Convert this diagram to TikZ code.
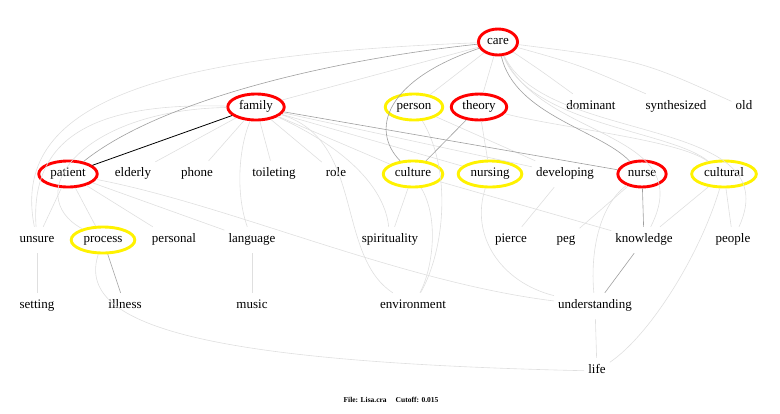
\documentclass[tikz,border=0pt]{standalone}
\usepackage{fontspec}
\setmainfont{Liberation Serif}
\usetikzlibrary{shapes.geometric}

\begin{document}
\begin{tikzpicture}[
    x=1pt, y=-1pt,
    word/.style={font=\fontsize{13}{15}\selectfont, text height=8pt, text depth=4pt, inner xsep=4pt, inner ysep=7pt},
    hub/.style={word, ellipse, draw=red, line width=2.9pt, inner xsep=3pt, inner ysep=2pt, minimum height=26pt},
    seed/.style={hub, draw=yellow},
    weak/.style={draw=gray!25, line width=0.6pt},
    mid/.style={draw=gray!75, line width=0.6pt},
    strong/.style={draw=black, line width=0.8pt},
]
\useasboundingbox (0,0) rectangle (780,413);

\node[hub] (care) at (498,42) {care};

\node[hub] (family) at (256,107) {family};
\node[seed] (person) at (414,107) {person};
\node[hub] (theory) at (479,107) {theory};
\node[word] (dominant) at (591,107) {dominant};
\node[word] (synth) at (676,107) {synthesized};
\node[word] (old) at (744,107) {old};

\node[hub] (patient) at (68,174) {patient};
\node[word] (elderly) at (133,174) {elderly};
\node[word] (phone) at (197,174) {phone};
\node[word] (toilet) at (274,174) {toileting};
\node[word] (role) at (336,174) {role};
\node[seed] (culture) at (413,174) {culture};
\node[seed] (nursing) at (490,174) {nursing};
\node[word] (develop) at (565,174) {developing};
\node[hub] (nurse) at (642,174) {nurse};
\node[seed] (cultural) at (724,174) {cultural};

\node[word] (unsure) at (37,240) {unsure};
\node[seed] (process) at (103,240) {process};
\node[word] (personal) at (174,240) {personal};
\node[word] (language) at (252,240) {language};
\node[word] (spirit) at (390,240) {spirituality};
\node[word] (pierce) at (511,240) {pierce};
\node[word] (peg) at (566,240) {peg};
\node[word] (knowledge) at (644,240) {knowledge};
\node[word] (people) at (733,240) {people};

\node[word] (setting) at (37,306) {setting};
\node[word] (illness) at (125,306) {illness};
\node[word] (music) at (252,306) {music};
\node[word] (environ) at (413,306) {environment};
\node[word] (underst) at (595,306) {understanding};

\node[word] (life) at (597,371) {life};

\node[font=\fontsize{7.5}{9}\selectfont\bfseries] (footer) at (391,400) {File: Lisa.cra\hspace{9pt}Cutoff: 0.015};

\draw[weak] (care) -- (family);
\draw[weak] (care) -- (person);
\draw[weak] (care) -- (theory);
\draw[weak] (care) .. controls (540,70) .. (dominant);
\draw[weak] (care) .. controls (580,65) .. (synth);
\draw[weak] (care) .. controls (640,60) .. (old);
\draw[weak] (care) .. controls (150,55) and (10,105) .. (unsure);
\draw[weak] (care) .. controls (540,140) and (700,130) .. (knowledge);
\draw[weak] (care) .. controls (530,125) and (670,130) .. (cultural);
\draw[weak] (care) .. controls (545,145) and (790,115) .. (people);
\draw[weak] (family) -- (elderly);
\draw[weak] (family) -- (phone);
\draw[weak] (family) -- (toilet);
\draw[weak] (family) -- (role);
\draw[weak] (family) -- (culture);
\draw[weak] (family) -- (nursing);
\draw[weak] (family) -- (develop);
\draw[weak] (family) .. controls (238,150) and (236,195) .. (language);
\draw[weak] (family) .. controls (350,150) and (385,190) .. (spirit);
\draw[weak] (family) .. controls (365,140) and (335,255) .. (environ);
\draw[weak] (family) .. controls (90,102) and (30,140) .. (unsure);
\draw[weak] (family) .. controls (80,110) and (20,195) .. (process);
\draw[weak] (patient) -- (unsure);
\draw[weak] (patient) -- (process);
\draw[weak] (patient) -- (personal);
\draw[weak] (patient) -- (language);
\draw[weak] (patient) .. controls (230,205) and (400,282) .. (underst);
\draw[weak] (process) .. controls (75,325) and (200,362) .. (life);
\draw[weak] (person) .. controls (452,170) and (445,250) .. (environ);
\draw[weak] (person) -- (develop);
\draw[weak] (theory) -- (nursing);
\draw[weak] (theory) .. controls (560,128) and (680,140) .. (cultural);
\draw[weak] (culture) -- (spirit);
\draw[weak] (culture) .. controls (440,220) and (432,270) .. (environ);
\draw[weak] (culture) -- (knowledge);
\draw[weak] (nursing) .. controls (470,235) and (500,282) .. (underst);
\draw[weak] (develop) -- (pierce);
\draw[weak] (nurse) -- (peg);
\draw[weak] (nurse) .. controls (600,205) and (590,250) .. (underst);
\draw[weak] (cultural) -- (knowledge);
\draw[weak] (cultural) -- (people);
\draw[weak] (cultural) .. controls (700,255) and (650,335) .. (life);
\draw[weak] (underst) -- (life);
\draw[weak] (language) -- (music);
\draw[weak] (unsure) -- (setting);

\draw[mid] (care) .. controls (330,60) and (160,100) .. (patient);
\draw[mid] (care) .. controls (385,80) and (370,130) .. (culture);
\draw[mid] (care) .. controls (515,115) and (600,130) .. (nurse);
\draw[mid] (family) -- (nurse);
\draw[mid] (theory) -- (culture);
\draw[mid] (nurse) -- (knowledge);
\draw[mid] (knowledge) -- (underst);
\draw[mid] (process) -- (illness);

\draw[strong] (family) -- (patient);

\end{tikzpicture}
\end{document}
